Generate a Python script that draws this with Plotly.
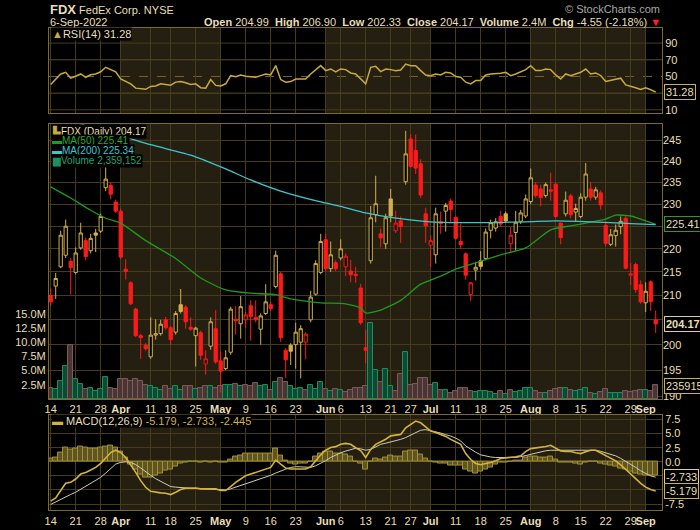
import math
import pandas as pd
import plotly.graph_objects as go

# ---------------- data ----------------
holidays = ["2022-04-15", "2022-05-30", "2022-06-20", "2022-07-04", "2022-09-05"]
dates = [d.strftime("%Y-%m-%d") for d in
         pd.bdate_range("2022-03-14", "2022-09-06", freq="C", holidays=holidays)]

prev_close_first = 210.6  # close of 11-Mar (bar before the first one shown)

open_ = [210.0, 212.0, 216.1, 218.6, 217.3, 214.9, 220.2, 221.8, 219.6, 223.5,
         223.9, 233.8, 234.3, 230.5, 228.4, 215.6, 212.7, 207.2, 201.8, 199.9,
         197.6, 201.9, 202.2, 205.0, 203.4, 202.5, 208.1, 207.6, 203.5, 201.8,
         202.4, 196.2, 199.7, 203.2, 196.8, 195.3, 198.5, 205.1, 204.2, 205.0,
         207.9, 205.5, 203.1, 206.3, 208.1, 211.9, 214.6, 198.9, 199.9, 200.0,
         200.5, 200.5, 205.0, 210.3, 214.9, 222.0, 215.7, 217.0, 218.0, 216.1,
         215.2, 214.5, 211.6, 199.4, 217.4, 227.6, 223.3, 221.1, 231.2, 224.0,
         226.2, 235.2, 245.4, 242.6, 239.4, 227.8, 220.8, 218.7, 226.0, 228.4,
         230.7, 227.0, 221.6, 218.9, 210.2, 215.4, 217.4, 217.9, 224.1, 224.6,
         227.2, 227.8, 221.1, 223.6, 226.1, 227.3, 230.6, 234.4, 233.5, 232.0,
         233.3, 234.6, 225.7, 227.8, 231.9, 228.2, 227.2, 231.6, 233.5, 231.6,
         232.6, 225.2, 221.0, 222.9, 224.9, 226.8, 214.3, 216.6, 212.3, 208.5,
         212.9, 204.99]
high = [211.5, 214.8, 224.0, 226.5, 218.0, 220.3, 225.8, 222.5, 223.3, 224.4,
        227.8, 238.9, 235.0, 231.0, 229.0, 217.7, 213.0, 207.5, 202.2, 200.3,
        205.5, 205.1, 205.0, 205.6, 203.8, 206.8, 211.4, 208.0, 205.5, 203.6,
        202.8, 198.9, 205.5, 207.0, 198.6, 198.9, 207.7, 207.8, 209.9, 206.6,
        209.0, 209.0, 206.3, 212.4, 208.7, 219.6, 215.0, 199.3, 200.3, 204.4,
        203.9, 202.5, 211.0, 217.5, 223.3, 223.3, 221.6, 217.5, 222.1, 219.0,
        217.6, 216.1, 212.5, 202.9, 229.6, 236.6, 224.5, 227.8, 233.5, 228.5,
        227.2, 247.4, 246.6, 246.5, 240.5, 229.2, 223.0, 229.2, 228.3, 230.3,
        231.3, 227.2, 225.6, 219.2, 212.8, 217.2, 219.5, 224.5, 226.5, 226.8,
        228.5, 228.3, 224.8, 228.5, 228.7, 232.2, 238.3, 235.0, 234.5, 235.0,
        237.3, 235.0, 225.7, 232.9, 232.4, 230.1, 232.5, 239.6, 235.0, 234.0,
        233.2, 226.0, 224.4, 225.4, 227.2, 227.4, 216.9, 217.0, 213.2, 212.8,
        213.2, 206.90]
low = [207.8, 209.3, 215.8, 218.0, 210.2, 214.5, 219.8, 217.5, 219.0, 219.3,
       223.5, 233.0, 231.1, 228.0, 217.8, 213.4, 208.0, 201.5, 197.2, 198.8,
       197.2, 201.0, 201.8, 203.0, 199.9, 202.0, 206.3, 203.2, 202.8, 195.7,
       197.0, 194.1, 199.0, 196.2, 190.7, 195.0, 198.0, 202.0, 201.2, 203.4,
       200.8, 204.5, 200.0, 206.0, 206.8, 211.5, 200.5, 193.5, 196.0, 195.3,
       193.4, 197.1, 204.5, 210.0, 214.5, 215.2, 215.0, 215.2, 217.5, 214.1,
       212.8, 212.7, 204.0, 196.3, 216.8, 225.9, 220.3, 220.0, 225.9, 223.5,
       221.3, 234.5, 238.5, 237.0, 231.5, 221.3, 216.0, 216.8, 223.3, 223.8,
       225.7, 222.0, 220.0, 213.3, 208.9, 213.2, 215.5, 217.5, 222.3, 223.8,
       224.8, 225.8, 219.3, 219.6, 225.5, 226.8, 230.0, 231.5, 229.5, 231.5,
       230.8, 226.8, 221.0, 227.2, 226.8, 226.0, 226.8, 230.8, 230.8, 231.0,
       228.7, 220.6, 220.6, 220.5, 223.2, 215.6, 212.2, 210.6, 208.3, 206.6,
       206.8, 202.33]
close = [208.7, 213.6, 223.0, 225.0, 215.9, 219.1, 223.5, 218.3, 222.3, 223.0,
         227.2, 235.8, 232.3, 228.4, 218.2, 215.1, 208.3, 201.8, 201.4, 199.2,
         201.9, 202.2, 204.1, 203.4, 201.0, 206.3, 206.7, 204.6, 203.1, 203.3,
         197.9, 197.2, 204.6, 196.6, 194.8, 197.4, 207.2, 204.8, 207.7, 206.0,
         205.7, 205.0, 205.8, 208.7, 207.3, 218.6, 201.4, 197.0, 198.7, 202.5,
         203.2, 202.1, 209.7, 216.8, 221.6, 215.7, 218.7, 215.7, 220.0, 218.4,
         214.4, 214.3, 204.4, 198.9, 226.9, 230.1, 222.4, 226.9, 227.3, 225.7,
         224.9, 241.8, 238.8, 238.4, 232.1, 225.1, 221.8, 227.8, 225.6, 229.7,
         228.8, 222.3, 220.9, 214.3, 212.7, 216.0, 216.2, 223.7, 225.8, 226.0,
         225.5, 226.2, 223.0, 225.9, 228.0, 231.2, 236.1, 232.0, 231.5, 234.5,
         233.0, 227.2, 222.5, 230.9, 227.6, 229.0, 231.6, 237.0, 231.6, 233.3,
         229.8, 221.2, 223.1, 224.1, 226.1, 215.8, 214.6, 211.3, 208.7, 210.9,
         208.72, 204.17]
volume_m = [2.0, 1.7, 3.1, 5.7, 9.4, 3.5, 2.6, 1.75, 1.9, 1.35,
            1.8, 3.9, 2.0, 1.8, 3.5, 3.5, 3.1, 3.5, 3.1, 2.5,
            2.2, 1.9, 1.6, 2.3, 1.7, 2.3, 1.6, 2.2, 2.2, 1.7,
            1.9, 2.2, 2.3, 1.9, 2.2, 2.5, 2.5, 2.6, 2.2, 2.5,
            2.2, 2.8, 2.2, 2.5, 1.5, 2.9, 3.7, 2.9, 2.2, 1.8,
            2.0, 1.6, 2.4, 1.8, 2.9, 1.8, 1.45, 1.8, 1.6, 1.3,
            1.6, 2.0, 1.9, 2.2, 13.3, 5.0, 2.9, 5.2, 2.2, 1.45,
            4.4, 8.3, 2.4, 2.6, 3.7, 3.7, 2.5, 2.8, 1.6, 1.5,
            1.0, 1.45, 1.9, 1.9, 1.35, 1.2, 1.35, 1.35, 1.2, 0.9,
            1.35, 0.95, 1.55, 1.2, 1.35, 1.9, 1.9, 1.35, 1.05, 1.05,
            1.45, 1.8, 1.9, 2.0, 1.6, 1.45, 1.55, 2.0, 1.05, 0.9,
            1.2, 1.75, 1.0, 1.05, 1.0, 1.45, 1.2, 1.45, 1.6, 1.5,
            1.35, 2.359152]

ma50_dates = ["2022-03-14", "2022-03-18", "2022-03-24", "2022-03-29", "2022-04-01",
              "2022-04-08", "2022-04-19", "2022-04-26", "2022-05-03", "2022-05-10",
              "2022-05-17", "2022-05-20", "2022-05-31", "2022-06-07", "2022-06-10",
              "2022-06-13", "2022-06-16", "2022-06-23", "2022-06-29", "2022-07-06",
              "2022-07-11", "2022-07-18", "2022-07-22", "2022-07-29", "2022-08-05",
              "2022-08-11", "2022-08-17", "2022-08-22", "2022-08-24", "2022-08-29",
              "2022-08-31", "2022-09-06"]
ma50_vals = [234.0, 231.4, 228.6, 226.8, 225.7, 221.8, 217.9, 213.7, 211.2, 210.5,
             210.2, 209.3, 208.5, 208.3, 207.4, 206.4, 207.0, 209.0, 212.4, 214.1,
             215.6, 217.3, 218.7, 220.2, 224.2, 225.1, 225.9, 226.6, 227.5, 227.3,
             226.6, 225.41]

ma200_dates = ["2022-03-14", "2022-03-18", "2022-03-22", "2022-03-30", "2022-04-11",
               "2022-04-22", "2022-05-03", "2022-05-10", "2022-05-18", "2022-05-31",
               "2022-06-06", "2022-06-13", "2022-06-21", "2022-07-01", "2022-07-14",
               "2022-07-29", "2022-08-08", "2022-08-17", "2022-08-29", "2022-09-06"]
ma200_vals = [251.8, 250.4, 249.1, 247.0, 244.0, 241.5, 238.2, 235.6, 233.0, 230.5,
              229.5, 228.0, 227.0, 226.0, 225.8, 226.0, 226.2, 226.0, 225.6, 225.34]

rsi = [40.4, 47, 53, 55, 47.9, 50.2, 53, 49, 52, 53,
       55.6, 61, 58.2, 55.6, 47, 44.3, 41.1, 36, 35.4, 34.6,
       38.1, 38.5, 41.2, 40.8, 39.5, 43.2, 43.9, 42.4, 40.4, 41.2,
       36.5, 36, 46.3, 39.3, 38.5, 41.2, 51, 49.8, 51.8, 50.2,
       49.8, 49, 51, 53, 51.8, 63, 46.3, 43.2, 43.9, 47,
       47, 47, 53, 58.2, 63, 57, 59, 55.6, 59, 58.2,
       54.2, 53, 47, 41.1, 60.9, 62.1, 55.8, 58.9, 58.2, 57,
       57.7, 64.8, 62.9, 62.9, 57, 51.8, 51, 53, 51.8, 55,
       54.2, 49.9, 49, 43.1, 41.1, 45.1, 45.1, 51.8, 53, 53,
       53.8, 55, 51, 53, 55.8, 58.2, 62.9, 57, 57, 58.9,
       58.2, 51.8, 47, 53, 51, 53, 55, 58.9, 53, 54.2,
       51, 43.9, 45.1, 46.3, 47.9, 39.9, 38.4, 36.4, 34.4, 36.4,
       34, 31.28]

macd = [-6.99, -6.4, -5.1, -3.82, -3.64, -3.06, -2.18, -1.9, -1.47, -1.0,
        -0.3, 0.76, 1.64, 2.05, 1.64, 0.76, -0.53, -1.88, -3.35, -4.52,
        -5.23, -5.4, -5.52, -5.58, -5.81, -5.4, -4.93, -4.7, -4.64, -4.64,
        -4.81, -4.81, -4.93, -4.81, -5.1, -5.1, -4.4, -3.64, -3.06, -2.47,
        -2.18, -1.9, -1.58, -1.3, -1.0, 0.29, -0.41, -1.11, -1.29, -1.29,
        -1.29, -1.29, -0.88, 0.17, 1.23, 2.05, 2.52, 2.69, 3.1, 3.27,
        3.1, 2.5, 2.0, 0.76, 2.2, 3.1, 3.5, 4.0, 4.6, 4.75,
        4.86, 6.04, 6.7, 7.22, 6.92, 6.2, 5.46, 5.2, 4.86, 4.5,
        3.98, 3.6, 3.1, 1.46, 0.4, -0.3, -0.53, -0.3, -0.12, 0.2,
        0.58, 0.7, 0.76, 0.9, 1.05, 1.8, 2.34, 2.45, 2.52, 2.7,
        2.93, 2.4, 1.93, 1.85, 1.82, 1.6, 1.46, 1.8, 2.05, 2.05,
        1.6, 1.05, 0.6, 0.17, -0.53, -1.3, -2.18, -3.0, -3.82, -4.5,
        -4.9, -5.179]
signal = [-7.57, -7.1, -6.7, -6.28, -5.8, -5.4, -4.9, -4.4, -3.9, -3.3,
          -2.76, -2.0, -1.2, -0.41, -0.1, 0.0, -0.1, -0.5, -1.1, -1.8,
          -2.4, -3.0, -3.5, -4.0, -4.4, -4.5, -4.6, -4.64, -4.7, -4.72,
          -4.75, -4.78, -4.81, -4.85, -4.95, -4.99, -4.8, -4.5, -4.2, -3.94,
          -3.6, -3.3, -3.0, -2.76, -2.4, -2.0, -1.6, -1.3, -1.0, -0.88,
          -0.9, -0.95, -1.0, -0.7, -0.3, 0.2, 0.76, 1.2, 1.6, 1.9,
          2.22, 2.4, 2.3, 2.05, 2.2, 2.6, 3.1, 3.3, 3.5, 3.75,
          3.98, 4.3, 4.7, 5.16, 5.6, 5.7, 5.5, 5.34, 5.1, 4.8,
          4.57, 4.2, 3.7, 2.81, 2.2, 1.7, 1.23, 1.0, 0.85, 0.76,
          0.76, 0.76, 0.76, 0.76, 0.9, 1.1, 1.34, 1.6, 1.8, 1.95,
          2.05, 2.05, 2.0, 1.93, 1.93, 1.93, 1.93, 1.95, 2.0, 2.05,
          1.85, 1.6, 1.3, 1.05, 0.6, 0.1, -0.41, -1.0, -1.6, -2.1,
          -2.5, -2.733]

tick_dates = ["2022-03-14", "2022-03-21", "2022-03-28", "2022-04-01", "2022-04-11",
              "2022-04-18", "2022-04-25", "2022-05-02", "2022-05-09", "2022-05-16",
              "2022-05-23", "2022-06-01", "2022-06-06", "2022-06-13", "2022-06-21",
              "2022-06-27", "2022-07-01", "2022-07-11", "2022-07-18", "2022-07-25",
              "2022-08-01", "2022-08-08", "2022-08-15", "2022-08-22", "2022-08-29",
              "2022-09-01"]
tick_labels = ["14", "21", "28", "<b>Apr</b>", "11", "18", "25", "<b>May</b>", "9", "16",
               "23", "<b>Jun</b>", "6", "13", "21", "27", "<b>Jul</b>", "11", "18", "25",
               "<b>Aug</b>", "8", "15", "22", "29", "<b>Sep</b>"]
shaded_months = [("2022-04-01", "2022-05-02"), ("2022-06-01", "2022-07-01"),
                 ("2022-08-01", "2022-09-01")]

price_ticks = [190, 195, 200, 205, 210, 215, 220, 225, 230, 235, 240, 245]
rsi_ticks = [10, 30, 50, 70, 90]
macd_ticks = [-7.5, -5.0, -2.5, 0.0, 2.5, 5.0, 7.5]
vol_ticks = [2.5, 5.0, 7.5, 10.0, 12.5, 15.0]
# tick labels that the reference hides behind its value tags
hidden_price = {205, 225}
hidden_rsi = {30}
hidden_macd = {-2.5, -5.0}

# ---------------- styling ----------------
BG = "#000000"
BROWN = "#241f11"
GRID = "#463c1c"
BORDER = "#7c6a32"
TXT = "#e8dfb8"
GOLD = "#d2b04a"
RED = "#ff1a1a"
GREEN = "#1e9a1e"
CYAN = "#3cc6d0"
FONT = "Liberation Sans, Arial, sans-serif"

W, H = 700, 530
ML, MR = 49, 38


def px2x(px):
    return (px - ML) / (W - ML - MR)


def py2y(py):
    return 1 - py / H


pos = list(range(len(dates)))
idx = {d: i for i, d in enumerate(dates)}
prev = [prev_close_first] + close[:-1]
up = [c >= p for c, p in zip(close, prev)]
down = [not u for u in up]


def pick(lst, mask):
    return [v for v, m in zip(lst, mask) if m]


fig = go.Figure()

# volume (base axis of the price panel, drawn under the candles)
fig.add_trace(go.Bar(
    x=pos, y=[v * 1e6 for v in volume_m], xaxis="x2", yaxis="y2", width=0.9,
    marker=dict(color=["#0d4a33" if u else "#4a3434" for u in up],
                line=dict(color=["#1f8f5f" if u else "#7d5c5c" for u in up], width=1)),
    hoverinfo="skip", showlegend=False))

for mask, col in ((up, GOLD), (down, RED)):
    fig.add_trace(go.Candlestick(
        x=pick(pos, mask), open=pick(open_, mask), high=pick(high, mask),
        low=pick(low, mask), close=pick(close, mask), xaxis="x2", yaxis="y3",
        increasing=dict(line=dict(color=col, width=1), fillcolor=BG),
        decreasing=dict(line=dict(color=col, width=1), fillcolor=col),
        whiskerwidth=0, showlegend=False, hoverinfo="skip"))

fig.add_trace(go.Scatter(x=[idx[d] for d in ma50_dates], y=ma50_vals, mode="lines",
                         line=dict(color=GREEN, width=1.3, shape="spline", smoothing=0.6),
                         xaxis="x2", yaxis="y3", showlegend=False, hoverinfo="skip"))
fig.add_trace(go.Scatter(x=[idx[d] for d in ma200_dates], y=ma200_vals, mode="lines",
                         line=dict(color=CYAN, width=1.3, shape="spline", smoothing=0.6),
                         xaxis="x2", yaxis="y3", showlegend=False, hoverinfo="skip"))

# RSI
fig.add_trace(go.Scatter(x=pos, y=rsi, mode="lines", line=dict(color="#c9ab3c", width=1.5),
                         xaxis="x", yaxis="y", showlegend=False, hoverinfo="skip"))

# MACD
hist = [m - s for m, s in zip(macd, signal)]
fig.add_trace(go.Bar(x=pos, y=hist, width=0.9, xaxis="x3", yaxis="y4",
                     marker=dict(color="#5f5520", line=dict(color="#a39035", width=1)),
                     showlegend=False, hoverinfo="skip"))
fig.add_trace(go.Scatter(x=pos, y=signal, mode="lines", line=dict(color="#d0ccb8", width=1),
                         xaxis="x3", yaxis="y4", showlegend=False, hoverinfo="skip"))
fig.add_trace(go.Scatter(x=pos, y=macd, mode="lines", line=dict(color="#d4b43c", width=1.6),
                         xaxis="x3", yaxis="y4", showlegend=False, hoverinfo="skip"))

# ---------------- layout ----------------
tickpos = [idx[d] for d in tick_dates]
tfont = dict(family=FONT, size=11, color=TXT)
xcommon = dict(range=[-0.34, 122.26], tickmode="array", tickvals=tickpos, ticktext=tick_labels,
               tickangle=0, showgrid=True, gridcolor=GRID, gridwidth=1, zeroline=False,
               showline=True, mirror=True, linecolor=BORDER, linewidth=1, ticks="",
               tickfont=tfont, fixedrange=True)

dom_rsi = [py2y(113), py2y(27.3)]
dom_price = [py2y(401), py2y(124)]
dom_macd = [py2y(513.3), py2y(416.7)]

fig.update_layout(
    width=W, height=H, paper_bgcolor=BG, plot_bgcolor=BG,
    margin=dict(l=ML, r=MR, t=0, b=0, pad=0), showlegend=False, bargap=0,
    boxgap=0, boxgroupgap=0.35,
    font=dict(family=FONT, size=11, color=TXT),
    xaxis=dict(**xcommon, anchor="y", showticklabels=False),
    xaxis2=dict(**xcommon, anchor="y2", showticklabels=True, rangeslider=dict(visible=False)),
    xaxis3=dict(**xcommon, anchor="y4", showticklabels=True),
    yaxis=dict(domain=dom_rsi, range=[6.0, 108], side="right", tickvals=rsi_ticks,
               ticktext=["" if t in hidden_rsi else str(t) for t in rsi_ticks],
               showgrid=False, zeroline=False, showline=True, mirror=True,
               linecolor=BORDER, ticks="", tickfont=tfont),
    yaxis2=dict(domain=dom_price, range=[0, 48.33e6], side="left",
                tickvals=[v * 1e6 for v in vol_ticks],
                ticktext=["%.1fM" % v for v in vol_ticks],
                showgrid=False, zeroline=False, showline=True, mirror=True,
                linecolor=BORDER, ticks="", tickfont=tfont),
    yaxis3=dict(overlaying="y2", anchor="x2", side="right", type="log",
                range=[math.log10(189.48), math.log10(249.07)], tickvals=price_ticks,
                ticktext=["" if t in hidden_price else str(t) for t in price_ticks],
                showgrid=True, gridcolor=GRID,
                zeroline=False, showline=False, ticks="", tickfont=tfont),
    yaxis4=dict(domain=dom_macd, range=[-8.63, 8.38], side="right", tickvals=macd_ticks,
                ticktext=["" if t in hidden_macd else "%.1f" % t for t in macd_ticks],
                showgrid=True, gridcolor=GRID,
                zeroline=False, showline=True, mirror=True, linecolor=BORDER, ticks="",
                tickfont=tfont),
)

shapes = []
for xr, yr in (("x", "y domain"), ("x2", "y2 domain"), ("x3", "y4 domain")):
    for a, b in shaded_months:
        shapes.append(dict(type="rect", xref=xr, yref=yr, x0=idx[a], x1=idx[b], y0=0, y1=1,
                           fillcolor=BROWN, line=dict(width=0), layer="below"))
for lv in (10, 30, 70, 90):
    shapes.append(dict(type="line", xref="x domain", yref="y", x0=0, x1=1, y0=lv, y1=lv,
                       line=dict(color="#5a4c22" if lv in (30, 70) else GRID, width=1),
                       layer="below"))
shapes.append(dict(type="line", xref="x domain", yref="y", x0=0, x1=1, y0=50, y1=50,
                   line=dict(color="#7a6430", width=1, dash="dash"), layer="below"))
fig.update_layout(shapes=shapes)

ann = []


def label(px, py, text, size=11, color=TXT, anchor="left", bg=None):
    d = dict(xref="paper", yref="paper", x=px2x(px), y=py2y(py), text=text, showarrow=False,
             xanchor=anchor, yanchor="middle", font=dict(family=FONT, size=size, color=color),
             borderpad=0)
    if bg:
        d["bgcolor"] = bg
    ann.append(d)


label(49, 9, "<b><span style='font-size:13px'>FDX</span></b> FedEx Corp. NYSE")
label(49, 21, "6-Sep-2022")
label(661, 8, "© StockCharts.com", color="#a8a8a8", anchor="right")
label(662, 21, "<b>Open</b> 204.99  <b>High</b> 206.90  <b>Low</b> 202.33  "
               "<b>Close</b> 204.17  <b>Volume</b> 2.4M  <b>Chg</b> -4.55 (-2.18%) "
               "<span style='color:#ff2020'>▼</span>", anchor="right")

label(51, 33, "<span style='color:#c9ab3c'>▲</span>RSI(14) 31.28", bg=BG)
label(51, 131, "<span style='color:#c9ab3c'>▙</span>FDX (Daily) 204.17", size=10, bg=BG)
label(51, 141, "<span style='color:#1e9a1e'>▬</span>MA(50) 225.41", size=10,
      color="#2aa82a", bg=BG)
label(51, 151, "<span style='color:#3cc6d0'>▬</span>MA(200) 225.34", size=10,
      color=CYAN, bg=BG)
label(51, 161, "<span style='color:#1f8f5f'>▆</span>Volume 2,359,152", size=10,
      color="#1fa070", bg=BG)
label(51, 423, "<span style='color:#d4b43c'>▬</span> MACD(12,26,9) "
               "<span style='color:#d4b43c'>-5.179, -2.733, -2.445</span>", bg=BG)


def tag(yref, y, text, border, bold=False):
    ann.append(dict(xref="paper", yref=yref, x=1, y=y, xanchor="left", yanchor="middle",
                    xshift=2, text="<b>%s</b>" % text if bold else text, showarrow=False,
                    bgcolor=BG, bordercolor=border, borderwidth=1, borderpad=1,
                    font=dict(family=FONT, size=11, color=TXT)))


tag("y", 31.28, "31.28", "#c8b060")
tag("y3", math.log10(225.41), "225.41", "#2a9a2a")
tag("y3", math.log10(204.17), "204.17", "#d8cf9c", bold=True)
tag("y2", 2359152, "2359152", "#c8b060")
tag("y4", -2.733, "-2.733", "#d8cf9c")
tag("y4", -5.179, "-5.179", "#c8b060")

fig.update_layout(annotations=ann)
fig.write_html("out.html", config={"displayModeBar": False},
               post_script="document.body.style.margin='0';document.body.style.overflow='hidden';")
